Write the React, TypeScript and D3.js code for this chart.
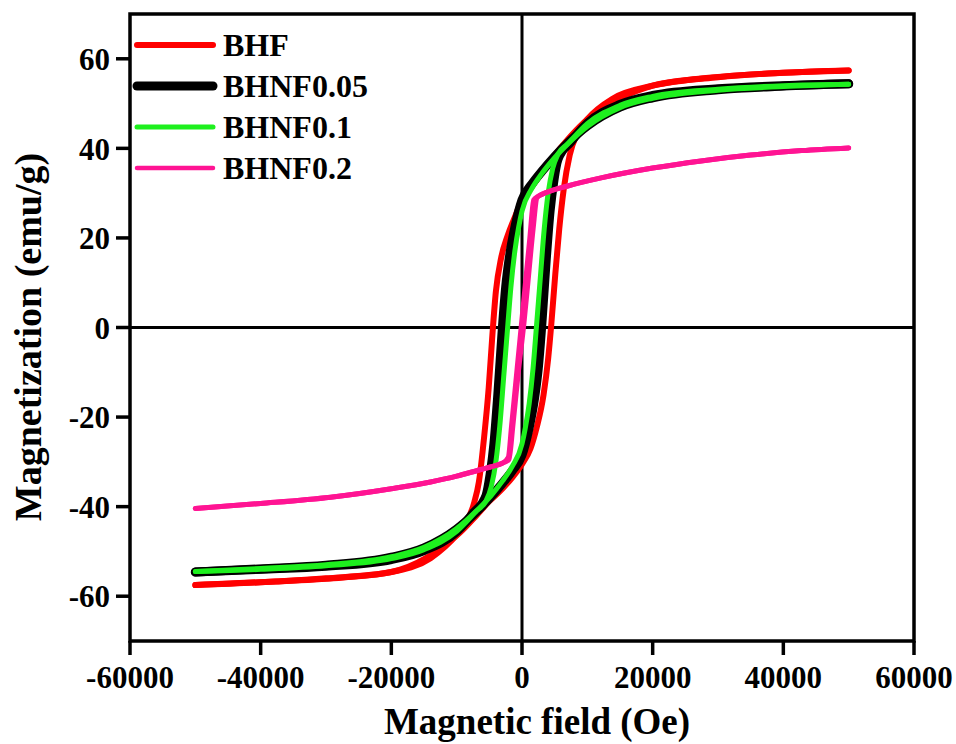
import React from 'react';
import * as d3 from 'd3';

type Pt = [number, number];

// Field (Oe) and magnetization (emu/g).
// "down" = branch swept from +H to -H, "up" = branch swept from -H to +H.
// Points listed in ascending field order.
const bhfDown: Pt[] = [
  [-50000, -57.5], [-40000, -56.9], [-30000, -56], [-20000, -54.6], [-14000, -51.5],
  [-10000, -46.3], [-8500, -43.5], [-7300, -39], [-6600, -34.5], [-5800, -24.5],
  [-5100, -13.5], [-4500, -1], [-4000, 8], [-3200, 15.5], [-2200, 20.5],
  [-1000, 25], [0, 28.5], [1500, 31.5], [3000, 34.5], [5000, 38.5], [7000, 42],
  [9500, 45.8], [12000, 48.8], [14700, 51], [20000, 54], [27400, 55.6],
  [37700, 56.7], [50000, 57.4],
];
const bhfUp: Pt[] = [
  [-50000, -57.5], [-37700, -56.7], [-27400, -55.8], [-20000, -54.6], [-14700, -51.5],
  [-12000, -48.8], [-9500, -45.8], [-7000, -42], [-5000, -38.8], [-3000, -36],
  [-1500, -33.5], [0, -30.5], [1300, -27], [2300, -22], [3300, -15], [4000, -7],
  [4500, 1], [5100, 12], [5700, 22], [6400, 31], [7300, 38.5], [8500, 43.5],
  [10000, 46.5], [14000, 51.2], [20000, 54], [30000, 55.9], [40000, 56.9],
  [50000, 57.4],
];

const bhnf005Down: Pt[] = [
  [-50000, -54.6], [-40000, -54], [-30000, -53.3], [-20000, -51.8], [-15000, -49.8],
  [-10000, -45.6], [-7500, -41.5], [-5500, -37.5], [-4900, -33], [-4300, -26],
  [-3700, -15], [-3000, 0], [-2500, 9], [-1900, 16], [-1000, 23], [0, 28.5],
  [1500, 32], [3000, 34.8], [5000, 38.2], [7000, 41.2], [10000, 45], [15000, 49.2],
  [20000, 51.3], [30000, 53.1], [40000, 53.9], [50000, 54.4],
];
const bhnf005Up: Pt[] = [
  [-50000, -54.6], [-40000, -53.9], [-30000, -53.1], [-20000, -51.3], [-15000, -49.2],
  [-10000, -45], [-7000, -41.2], [-5000, -38.2], [-3000, -34.8], [-1500, -32],
  [0, -28.5], [1000, -23], [1900, -16], [2500, -9], [3000, 0], [3700, 15],
  [4300, 26], [4900, 33], [5500, 37.5], [7500, 41.5], [10000, 45.6], [15000, 49.8],
  [20000, 51.8], [30000, 53.3], [40000, 54], [50000, 54.4],
];

const bhnf01Down: Pt[] = [
  [-50000, -54.5], [-40000, -54], [-30000, -53.2], [-20000, -51.6], [-15000, -49.6],
  [-10000, -45.5], [-7000, -41], [-5500, -38.7], [-4700, -35.5], [-4000, -30],
  [-3400, -22], [-2800, -11], [-2200, 0], [-1700, 9], [-1100, 17], [-500, 22.5],
  [0, 26], [1500, 31], [3000, 34.3], [5000, 37.9], [7000, 41], [10000, 44.9],
  [15000, 49.1], [20000, 51.2], [30000, 53], [40000, 53.8], [50000, 54.3],
];
const bhnf01Up: Pt[] = [
  [-50000, -54.5], [-40000, -53.8], [-30000, -53], [-20000, -51.2], [-15000, -49.1],
  [-10000, -44.9], [-7000, -41], [-5000, -38], [-4000, -36.2], [-3000, -34.3],
  [-1500, -31], [0, -26], [500, -22.5], [1100, -17], [1700, -9], [2200, 0],
  [2800, 11], [3400, 22], [4000, 30], [4700, 35.5], [5500, 38.7], [7000, 41],
  [10000, 45.5], [15000, 49.6], [20000, 51.6], [30000, 53.2], [40000, 54],
  [50000, 54.3],
];

const bhnf02Down: Pt[] = [
  [-50000, -40.4], [-40000, -39.3], [-29300, -37.9], [-20000, -36], [-14000, -34.5],
  [-10000, -33.2], [-6300, -31.7], [-4500, -31], [-3000, -30.3], [-2100, -29],
  [-1600, -22], [-1000, -13], [-300, -2.5], [500, 9.5], [1200, 20], [1800, 28.5],
  [2500, 29.3], [4000, 30.3], [7000, 31.6], [12100, 33.4], [20000, 35.6],
  [27400, 37.2], [35000, 38.5], [42800, 39.5], [50000, 40.1],
];
const bhnf02Up: Pt[] = [
  [-50000, -40.4], [-40000, -39.3], [-29300, -37.9], [-20000, -36], [-14000, -34.5],
  [-10000, -33.2], [-6300, -31.7], [-4500, -31], [-3000, -30.3], [-2000, -29.5],
  [-1400, -22], [-600, -10.5], [300, 1], [1000, 11.5], [1700, 22], [2300, 29],
  [3000, 29.7], [4000, 30.3], [7000, 31.6], [12100, 33.4], [20000, 35.6],
  [27400, 37.2], [35000, 38.5], [42800, 39.5], [50000, 40.1],
];

const seriesNames = ['BHF', 'BHNF0.05', 'BHNF0.1', 'BHNF0.2'];
const seriesBranches: Pt[][][] = [
  [bhfDown, bhfUp],
  [bhnf005Down, bhnf005Up],
  [bhnf01Down, bhnf01Up],
  [bhnf02Down, bhnf02Up],
];
const seriesColors = ['#ff0000', '#000000', '#1ef01e', '#ff1493'];
const seriesWidths = [6, 9, 5, 5];
const legendWidths = [6, 9, 5, 4.5];

const xTicks = [-60000, -40000, -20000, 0, 20000, 40000, 60000];
const yTicks = [-60, -40, -20, 0, 20, 40, 60];

const font = "'Liberation Serif', 'Times New Roman', serif";

export default function App() {
  const width = 956;
  const height = 744;

  // plot box
  const x = d3.scaleLinear().domain([-60000, 60000]).range([130, 914]);
  const y = d3.scaleLinear().domain([-70, 70]).range([641, 14]);
  const [x0, x1] = x.range();
  const [y0, y1] = y.range();

  const line = d3.line<Pt>()
    .x(d => x(d[0]))
    .y(d => y(d[1]))
    .curve(d3.curveMonotoneX);

  return (
    <svg width={width} height={height}
      style={{ position: 'absolute', left: 0, top: 0, background: '#fff' }}
      fontFamily={font} fontWeight="bold">
      {/* zero lines */}
      <line x1={x0} x2={x1} y1={y(0)} y2={y(0)} stroke="#000" strokeWidth={3} />
      <line x1={x(0)} x2={x(0)} y1={y1} y2={y0} stroke="#000" strokeWidth={3} />

      {/* loops */}
      {seriesBranches.map((branches, i) => (
        <g key={seriesNames[i]}>
          {branches.map((pts, j) => (
            <path key={j} d={line(pts) || ''} fill="none" stroke={seriesColors[i]}
              strokeWidth={seriesWidths[i]} strokeLinecap="round" strokeLinejoin="round" />
          ))}
        </g>
      ))}

      {/* frame */}
      <rect x={x0} y={y1} width={x1 - x0} height={y0 - y1} fill="none"
        stroke="#000" strokeWidth={3.5} />

      {/* x axis ticks */}
      {xTicks.map(t => (
        <g key={t}>
          <line x1={x(t)} x2={x(t)} y1={y0} y2={y0 + 14} stroke="#000" strokeWidth={3.5} />
          <text x={x(t)} y={688} textAnchor="middle" fontSize={31}>{String(t)}</text>
        </g>
      ))}

      {/* y axis ticks */}
      {yTicks.map(t => (
        <g key={t}>
          <line x1={x0 - 14} x2={x0} y1={y(t)} y2={y(t)} stroke="#000" strokeWidth={3.5} />
          <text x={110} y={y(t)} dy="0.36em" textAnchor="end" fontSize={31}>{String(t)}</text>
        </g>
      ))}

      {/* axis titles */}
      <text x={537} y={734} textAnchor="middle" fontSize={37}>Magnetic field (Oe)</text>
      <text transform={`translate(41,337) rotate(-90)`} textAnchor="middle" fontSize={38}>
        Magnetization (emu/g)
      </text>

      {/* legend */}
      {seriesNames.map((name, i) => {
        const ly = 45 + i * 41;
        return (
          <g key={name}>
            <line x1={137} x2={213} y1={ly} y2={ly} stroke={seriesColors[i]}
              strokeWidth={legendWidths[i]} strokeLinecap="round" />
            <text x={223} y={ly} dy="0.35em" fontSize={32}>{name}</text>
          </g>
        );
      })}
    </svg>
  );
}
